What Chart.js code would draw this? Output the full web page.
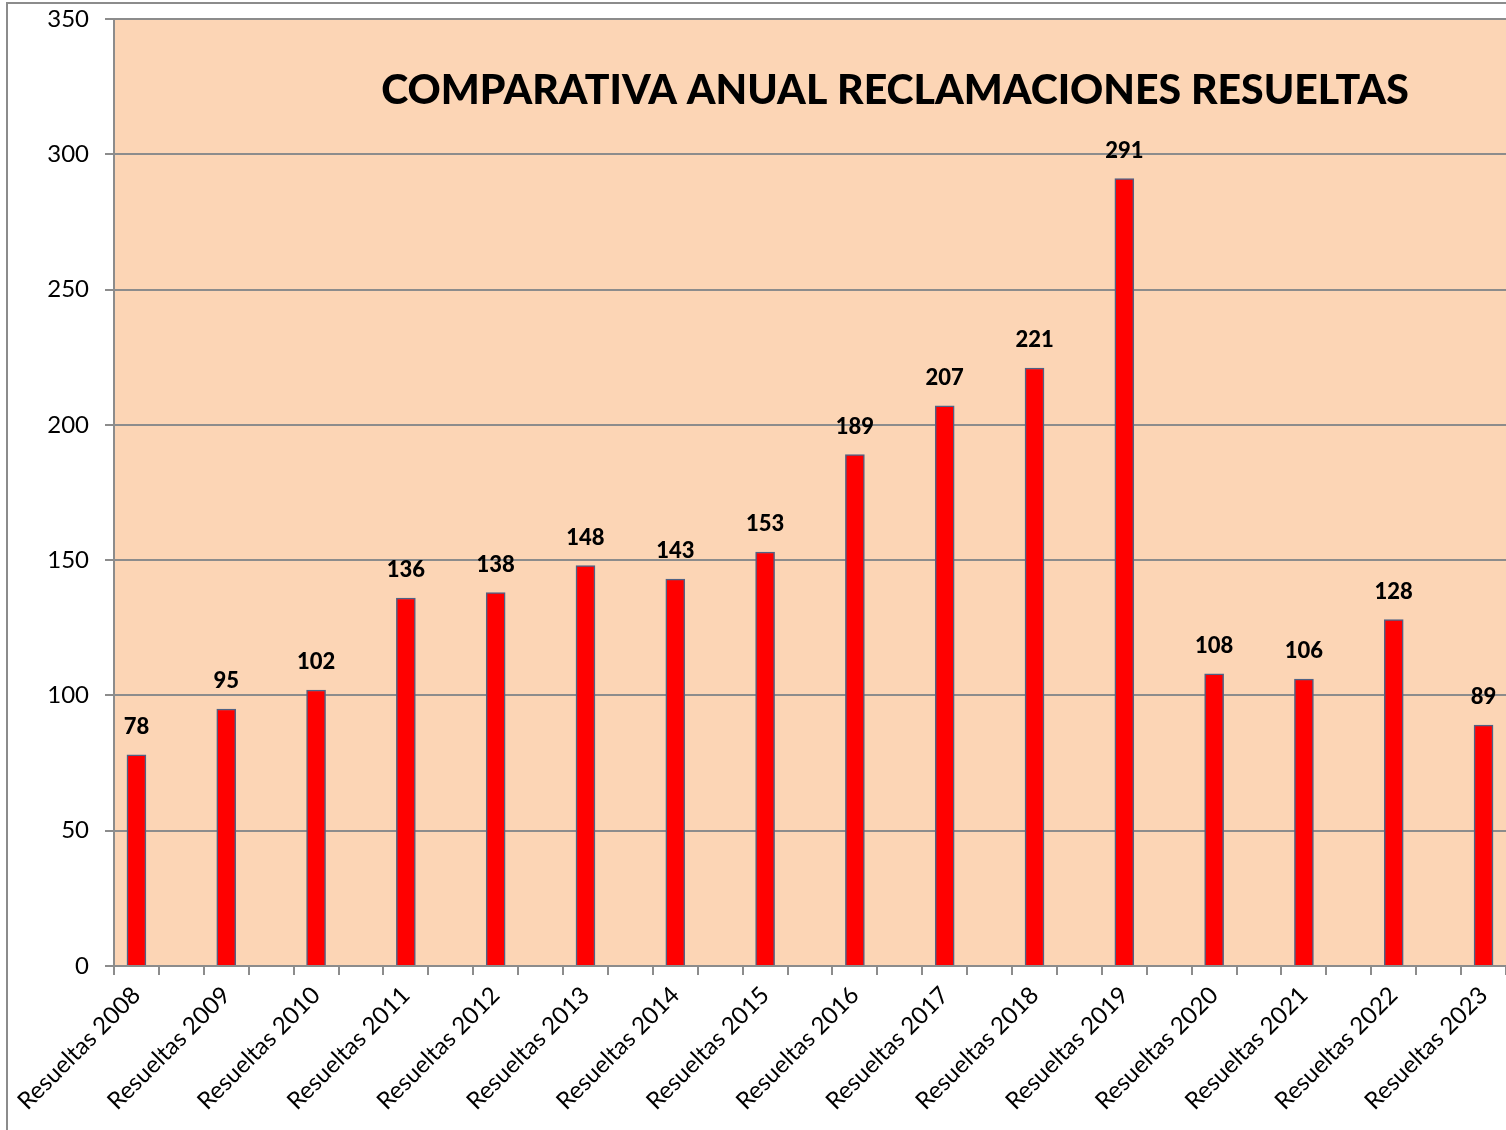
<!DOCTYPE html>
<html>
<head>
<meta charset="utf-8">
<script src="https://cdn.jsdelivr.net/npm/chart.js@4/dist/chart.umd.min.js"></script>
<style>
  html, body { margin: 0; padding: 0; background: #fff; }
  #wrap { width: 1506px; height: 1130px; position: relative; }
</style>
</head>
<body>
<div id="wrap"><canvas id="myChart" width="1506" height="1130"></canvas></div>
<script>
const years = [2008, 2009, 2010, 2011, 2012, 2013, 2014, 2015, 2016, 2017, 2018, 2019, 2020, 2021, 2022, 2023];
const resueltas = [78, 95, 102, 136, 138, 148, 143, 153, 189, 207, 221, 291, 108, 106, 128, 89];
const yTicks = [0, 50, 100, 150, 200, 250, 300, 350];
const titulo = 'COMPARATIVA ANUAL RECLAMACIONES RESUELTAS';

// Excel layout: each year sits on every other category slot
const labels = [];
const values = [];
years.forEach((y, i) => {
  if (i > 0) { labels.push(''); values.push(null); }
  labels.push('Resueltas ' + y);
  values.push(resueltas[i]);
});

const FONT = 'Lato, "Open Sans", sans-serif';
const GRIS = '#8c8c8c';

const marco = {
  id: 'marco',
  beforeDraw(chart) {
    const ctx = chart.ctx, a = chart.chartArea;
    ctx.save();
    ctx.fillStyle = '#fff';
    ctx.fillRect(0, 0, chart.width, chart.height);
    ctx.strokeStyle = GRIS;
    ctx.lineWidth = 2;
    ctx.strokeRect(7, 3, chart.width + 20, chart.height + 20);
    ctx.fillStyle = '#FCD5B5';
    ctx.fillRect(a.left, a.top, a.right - a.left, a.bottom - a.top);
    ctx.restore();
  },
  afterDraw(chart) {
    const ctx = chart.ctx;
    ctx.save();
    // title sits inside the plot area
    ctx.font = '900 41px ' + FONT;
    ctx.fillStyle = '#000';
    ctx.textAlign = 'center';
    ctx.textBaseline = 'middle';
    ctx.fillText(titulo, 895, 91);
    // value labels
    ctx.font = '900 22px ' + FONT;
    const meta = chart.getDatasetMeta(0);
    meta.data.forEach((bar, i) => {
      const v = chart.data.datasets[0].data[i];
      if (v === null) return;
      ctx.fillText(String(v), bar.x, bar.y - 28);
    });
    ctx.restore();
  }
};

const config = {
  type: 'bar',
  data: {
    labels: labels,
    datasets: [{
      label: 'Resueltas',
      data: values,
      backgroundColor: '#FF0000',
      borderColor: '#4F6285',
      borderWidth: 1.5,
      barThickness: 19
    }]
  },
  options: {
    responsive: false,
    animation: false,
    layout: { padding: { top: 19, right: 0, left: 0, bottom: 0 } },
    plugins: {
      legend: { display: false },
      tooltip: { enabled: false }
    },
    scales: {
      x: {
        offset: true,
        afterFit: (s) => { s.height = 164; s.paddingLeft = 0; s.paddingRight = 0; },
        grid: { drawOnChartArea: false, color: GRIS, lineWidth: 2, tickLength: 9, offset: true },
        border: { color: GRIS, width: 2 },
        ticks: {
          autoSkip: false,
          maxRotation: 45,
          minRotation: 45,
          padding: 6,
          color: '#000',
          font: { family: FONT, size: 24 }
        }
      },
      y: {
        min: 0,
        max: 350,
        afterFit: (s) => { s.width = 114; s.paddingTop = 0; s.paddingBottom = 0; },
        afterBuildTicks: (s) => { s.ticks = yTicks.map(v => ({ value: v })); },
        grid: { color: GRIS, lineWidth: 2, tickLength: 9 },
        border: { color: GRIS, width: 2 },
        ticks: {
          padding: 16,
          color: '#000',
          font: { family: FONT, size: 24 }
        }
      }
    }
  },
  plugins: [marco]
};

var myChart = new Chart(document.getElementById('myChart'), config);
</script>
</body>
</html>
